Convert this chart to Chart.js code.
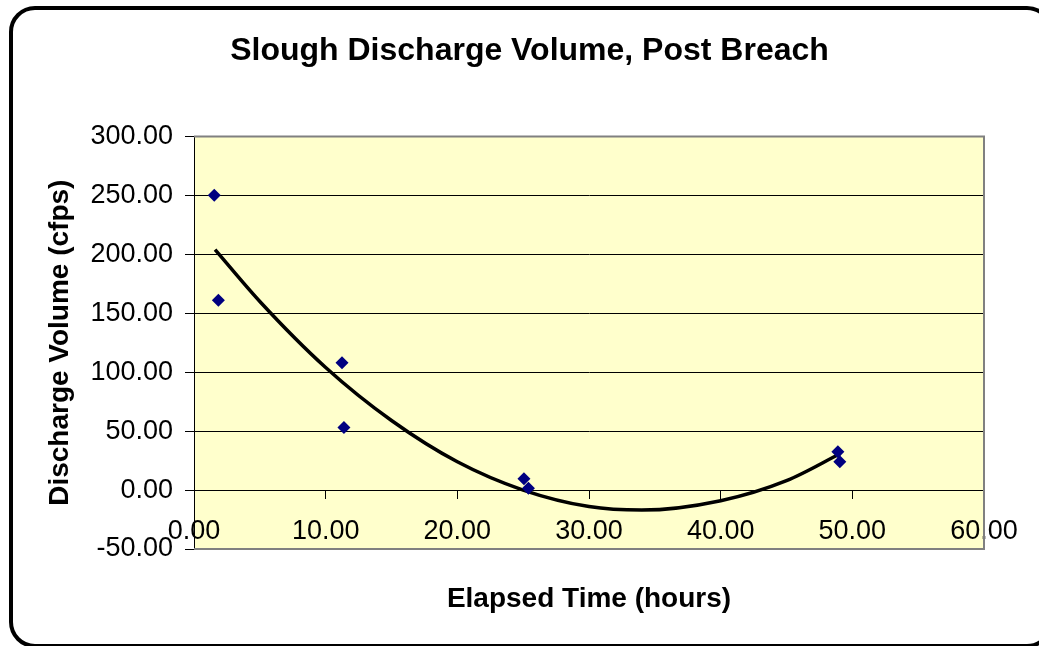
<!DOCTYPE html>
<html>
<head>
<meta charset="utf-8">
<script src="https://cdn.jsdelivr.net/npm/chart.js@4/dist/chart.umd.min.js"></script>
<style>
  html, body { margin: 0; padding: 0; background: #fff; }
  #wrap { width: 1039px; height: 646px; }
</style>
</head>
<body>
<div id="wrap"><canvas id="slough"></canvas></div>
<script>
// measured points (hours, cfps)
const elapsedHours = [1.54, 1.85, 11.24, 11.39, 25.06, 25.4, 48.9, 49.05];
const dischargeCfps = [250, 161, 108, 53, 9.5, 1.5, 32.5, 24];

// trendline
const trendHours = [1.6, 5, 10, 15, 20, 25, 30, 34, 40, 45, 49.1];
const trendCfps = [204, 160, 104, 59, 24, 0, -14, -17, -9, 8, 31];

const xTicks = [0, 10, 20, 30, 40, 50, 60];
const yTicks = [-50, 0, 50, 100, 150, 200, 250, 300];

const FONT = '"Liberation Sans", Arial, sans-serif';

let points = elapsedHours.map((h, i) => ({ x: h, y: dischargeCfps[i] }));
let trend = trendHours.map((h, i) => ({ x: h, y: trendCfps[i] }));

// Plot area fill + frame, outer rounded border
const decor = {
    id: 'decor',
    beforeDraw(chart) {
        let ctx = chart.ctx, a = chart.chartArea;
        ctx.save();
        ctx.fillStyle = '#fff';
        ctx.fillRect(0, 0, chart.width, chart.height);
        ctx.fillStyle = '#FFFFCC';
        ctx.fillRect(a.left, a.top, a.right - a.left, a.bottom - a.top);
        ctx.restore();
    },
    beforeDatasetsDraw(chart) {
        let ctx = chart.ctx, a = chart.chartArea;
        ctx.save();
        ctx.strokeStyle = '#808080';
        ctx.lineWidth = 2;
        ctx.beginPath();
        ctx.moveTo(a.left, a.top);
        ctx.lineTo(a.right, a.top);
        ctx.lineTo(a.right, a.bottom);
        ctx.lineTo(a.left, a.bottom);
        ctx.stroke();
        ctx.restore();
    },
    afterDraw(chart) {
        let ctx = chart.ctx;
        ctx.save();
        ctx.strokeStyle = '#000';
        ctx.lineWidth = 4;
        ctx.beginPath();
        ctx.roundRect(11, 8, 1040, 638, 24);
        ctx.stroke();
        ctx.restore();
    }
};

new Chart(document.getElementById('slough'), {
    type: 'scatter',
    data: {
        datasets: [{
            label: 'Discharge',
            data: points,
            pointStyle: 'rectRot',
            pointRadius: 6.5,
            pointHoverRadius: 6.5,
            backgroundColor: '#000080',
            borderColor: '#000080',
            borderWidth: 0
        }, {
            label: 'Trend',
            data: trend,
            showLine: true,
            pointRadius: 0,
            borderColor: '#000',
            borderWidth: 3.5,
            cubicInterpolationMode: 'monotone'
        }]
    },
    options: {
        responsive: true,
        maintainAspectRatio: false,
        animation: false,
        events: [],
        layout: { padding: { left: 20, right: 0, top: 0, bottom: 0 } },
        plugins: {
            legend: { display: false },
            tooltip: { enabled: false },
            title: {
                display: true,
                text: 'Slough Discharge Volume, Post Breach',
                color: '#000',
                font: { family: FONT, size: 32, weight: 'bold' },
                padding: { top: 32, bottom: 66 }
            }
        },
        scales: {
            x: {
                type: 'linear',
                position: { y: 0 },
                min: 0,
                max: 60,
                afterBuildTicks: s => { s.ticks = xTicks.map(v => ({ value: v })); },
                ticks: {
                    color: '#000',
                    font: { family: FONT, size: 27 },
                    padding: 17,
                    maxRotation: 0,
                    callback: v => Number(v).toFixed(2)
                },
                grid: { drawOnChartArea: false, tickLength: 8, tickColor: '#000' },
                border: { color: '#000', width: 1 },
                afterFit: s => { s.height = 0; }
            },
            x2: {
                type: 'linear',
                position: 'bottom',
                min: 0,
                max: 60,
                ticks: { display: false },
                grid: { display: false },
                border: { display: false },
                title: {
                    display: true,
                    text: 'Elapsed Time (hours)',
                    color: '#000',
                    font: { family: FONT, size: 28, weight: 'bold' },
                    padding: { top: 0, bottom: 30 }
                },
                afterFit: s => { s.height = 97; }
            },
            y: {
                type: 'linear',
                position: 'left',
                min: -50,
                max: 300,
                afterBuildTicks: s => { s.ticks = yTicks.map(v => ({ value: v })); },
                ticks: {
                    color: '#000',
                    font: { family: FONT, size: 27 },
                    padding: 12,
                    callback: v => Number(v).toFixed(2)
                },
                grid: {
                    color: c => (c.tick && (c.tick.value === 300 || c.tick.value === -50)) ? '#808080' : '#000',
                    lineWidth: 1,
                    tickLength: 9,
                    tickColor: '#000'
                },
                border: { color: '#000', width: 1 },
                title: {
                    display: true,
                    text: 'Discharge Volume (cfps)',
                    color: '#000',
                    font: { family: FONT, size: 28, weight: 'bold' },
                    padding: { top: 23, bottom: 0 }
                },
                afterFit: s => { s.width = 174; }
            },
            y2: {
                type: 'linear',
                position: 'right',
                min: -50,
                max: 300,
                ticks: { display: false },
                grid: { display: false },
                border: { display: false },
                afterFit: s => { s.width = 55; }
            }
        }
    },
    plugins: [decor]
});
</script>
</body>
</html>
